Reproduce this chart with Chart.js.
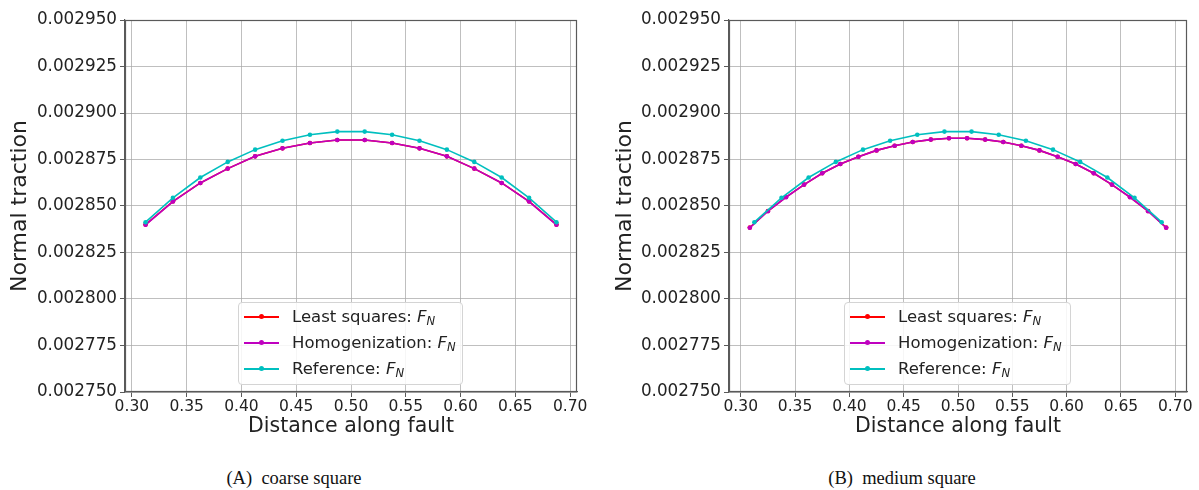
<!DOCTYPE html>
<html>
<head>
<meta charset="utf-8">
<script src="https://cdn.jsdelivr.net/npm/chart.js@4.4.1/dist/chart.umd.min.js"></script>
<style>
  html, body { margin: 0; padding: 0; background: #ffffff; }
  body { width: 1199px; height: 490px; overflow: hidden; position: relative; font-family: 'DejaVu Sans', sans-serif; }
  .wrap { position: absolute; top: 0; }
  .legend { position: absolute; box-sizing: border-box; border: 1px solid #d4d4d4; border-radius: 4px;
            background: rgba(255,255,255,0.85); font-family: 'DejaVu Sans', sans-serif; font-size: 16.5px; color: #222; }
  .row { position: absolute; left: 0; right: 0; height: 26px; line-height: 26px; white-space: nowrap; }
  .sample { position: absolute; top: 12px; height: 2px; width: 35px; }
  .dot { position: absolute; left: 15px; top: -2px; width: 5px; height: 5px; border-radius: 50%; }
  .txt { position: absolute; }
  .txt i { font-style: italic; }
  .txt sub { font-size: 70%; font-style: italic; vertical-align: -0.3em; line-height: 0; }
  .caption { position: absolute; top: 466px; width: 300px; text-align: center; font-family: 'Liberation Serif', serif;
             font-size: 18.5px; color: #111; line-height: 24px; }
</style>
</head>
<body>
<div class="wrap" style="left:0px;"><canvas id="chartA" width="600" height="440"></canvas></div>
<div class="wrap" style="left:600px;"><canvas id="chartB" width="599" height="440"></canvas></div>
<div id="legendA" class="legend" style="left:238px; top:302px; width:225px; height:83px;"></div>
<div id="legendB" class="legend" style="left:844px; top:302px; width:227px; height:83px;"></div>
<div class="caption" style="left:144px;">(A)&nbsp;&nbsp;coarse square</div>
<div class="caption" style="left:752px;">(B)&nbsp;&nbsp;medium square</div>

<script>
// ---------------- data ----------------
const xTickValues = [0.30, 0.35, 0.40, 0.45, 0.50, 0.55, 0.60, 0.65, 0.70];
const xTickLabels = ['0.30', '0.35', '0.40', '0.45', '0.50', '0.55', '0.60', '0.65', '0.70'];
const yTickValues = [0.002750, 0.002775, 0.002800, 0.002825, 0.002850, 0.002875, 0.002900, 0.002925, 0.002950];
const yTickLabels = ['0.002750', '0.002775', '0.002800', '0.002825', '0.002850', '0.002875', '0.002900', '0.002925', '0.002950'];

const seriesNames = ['Least squares', 'Homogenization', 'Reference'];
const seriesColors = ['#ff0000', '#bf00bf', '#00bfbf'];

// reference solution (same points in both panels)
const referenceX = [0.3125, 0.3375, 0.3625, 0.3875, 0.4125, 0.4375, 0.4625, 0.4875,
                    0.5125, 0.5375, 0.5625, 0.5875, 0.6125, 0.6375, 0.6625, 0.6875];
const referenceValues = [0.0028413, 0.0028544, 0.0028653, 0.0028737, 0.0028803, 0.0028851, 0.0028883, 0.0028900,
                         0.0028900, 0.0028883, 0.0028851, 0.0028803, 0.0028737, 0.0028653, 0.0028544, 0.0028413];

// (A) coarse square
const coarseX = [0.3125, 0.3375, 0.3625, 0.3875, 0.4125, 0.4375, 0.4625, 0.4875,
                 0.5125, 0.5375, 0.5625, 0.5875, 0.6125, 0.6375, 0.6625, 0.6875];
const coarseLeastSquares = [0.0028400, 0.0028525, 0.0028624, 0.0028701, 0.0028767, 0.0028810, 0.0028839, 0.0028855,
                            0.0028855, 0.0028839, 0.0028810, 0.0028767, 0.0028701, 0.0028624, 0.0028525, 0.0028400];
const coarseHomogenization = [0.0028399, 0.0028524, 0.0028624, 0.0028701, 0.0028767, 0.0028810, 0.0028839, 0.0028855,
                              0.0028855, 0.0028839, 0.0028810, 0.0028767, 0.0028701, 0.0028624, 0.0028524, 0.0028399];

// (B) medium square
const mediumX = [0.30833, 0.32500, 0.34167, 0.35833, 0.37500, 0.39167, 0.40833, 0.42500,
                 0.44167, 0.45833, 0.47500, 0.49167, 0.50833, 0.52500, 0.54167, 0.55833,
                 0.57500, 0.59167, 0.60833, 0.62500, 0.64167, 0.65833, 0.67500, 0.69167];
const mediumLeastSquares = [0.0028384, 0.0028473, 0.0028548, 0.0028615, 0.0028676, 0.0028726, 0.0028765, 0.0028799,
                            0.0028824, 0.0028844, 0.0028857, 0.0028864, 0.0028864, 0.0028857, 0.0028844, 0.0028824,
                            0.0028799, 0.0028765, 0.0028726, 0.0028676, 0.0028615, 0.0028548, 0.0028473, 0.0028384];
const mediumHomogenization = [0.0028383, 0.0028472, 0.0028547, 0.0028615, 0.0028676, 0.0028726, 0.0028765, 0.0028799,
                              0.0028824, 0.0028844, 0.0028857, 0.0028864, 0.0028864, 0.0028857, 0.0028844, 0.0028824,
                              0.0028799, 0.0028765, 0.0028726, 0.0028676, 0.0028615, 0.0028547, 0.0028472, 0.0028383];

// ---------------- helpers ----------------
const pairs = (xs, ys) => xs.map((x, i) => ({ x: x, y: ys[i] }));

function dataset(idx, xs, ys) {
  return {
    label: seriesNames[idx] + ': F_N',
    data: pairs(xs, ys),
    borderColor: seriesColors[idx],
    backgroundColor: seriesColors[idx],
    borderWidth: 1.6,
    pointRadius: 2.3,
    pointStyle: 'circle',
    pointBorderWidth: 0,
    showLine: true,
    tension: 0,
    order: 3 - idx
  };
}

const frameBox = {
  id: 'frameBox',
  afterDraw(chart) {
    const a = chart.chartArea, ctx = chart.ctx;
    ctx.save();
    ctx.strokeStyle = '#5a5a5a';
    ctx.lineWidth = 1.2;
    ctx.strokeRect(a.left + 0.5, a.top + 0.5, a.right - a.left - 1, a.bottom - a.top - 1);
    ctx.restore();
  }
};

const GRID = 'rgba(170,170,170,0.75)';
const AXIS = '#5a5a5a';
const TXT = '#222222';

function makeChart(id, datasets, xMin, xMax, yAxisWidth, padRight, yTitlePad) {
  return new Chart(document.getElementById(id), {
    type: 'line',
    data: { datasets: datasets },
    plugins: [frameBox],
    options: {
      responsive: false,
      animation: false,
      devicePixelRatio: 1,
      layout: { padding: { left: 0, top: 20, right: padRight, bottom: 0 } },
      plugins: { legend: { display: false }, tooltip: { enabled: false } },
      scales: {
        x: {
          type: 'linear',
          min: xMin, max: xMax,
          afterBuildTicks: (s) => { s.ticks = xTickValues.map(v => ({ value: v })); },
          afterFit: (s) => { s.height = 48; },
          ticks: {
            color: TXT, font: { family: 'DejaVu Sans', size: 15.5 }, padding: 1, maxRotation: 0,
            autoSkip: false,
            callback: (v, i) => xTickLabels[i]
          },
          grid: { color: GRID, lineWidth: 1, tickColor: AXIS, tickLength: 5 },
          border: { color: AXIS, width: 1.2 },
          title: { display: true, text: 'Distance along fault', color: TXT,
                   font: { family: 'DejaVu Sans', size: 20.5 }, padding: { top: 0, bottom: 1 } }
        },
        y: {
          type: 'linear',
          min: 0.002750, max: 0.002950,
          afterBuildTicks: (s) => { s.ticks = yTickValues.map(v => ({ value: v })); },
          afterFit: (s) => { s.width = yAxisWidth; },
          ticks: {
            color: TXT, font: { family: 'DejaVu Sans', size: 16.8 }, padding: 3, autoSkip: false,
            callback: (v, i) => yTickLabels[i]
          },
          grid: { color: GRID, lineWidth: 1, tickColor: AXIS, tickLength: 5 },
          border: { color: AXIS, width: 1.2 },
          title: { display: true, text: 'Normal traction', color: TXT,
                   font: { family: 'DejaVu Sans', size: 22 }, padding: { top: yTitlePad, bottom: 0 } }
        }
      }
    }
  });
}

makeChart('chartA', [
  dataset(0, coarseX, coarseLeastSquares),
  dataset(1, coarseX, coarseHomogenization),
  dataset(2, referenceX, referenceValues)
], 0.29375, 0.70625, 125, 23, 6.8);

makeChart('chartB', [
  dataset(0, mediumX, mediumLeastSquares),
  dataset(1, mediumX, mediumHomogenization),
  dataset(2, referenceX, referenceValues)
], 0.2891667, 0.7108333, 129, 12, 11.8);

// ---------------- legends ----------------
function buildLegend(id) {
  const box = document.getElementById(id);
  seriesNames.forEach((name, i) => {
    const row = document.createElement('div');
    row.className = 'row';
    row.style.top = (1 + i * 26) + 'px';
    const sample = document.createElement('div');
    sample.className = 'sample';
    sample.style.left = '5px';
    sample.style.background = seriesColors[i];
    const dot = document.createElement('div');
    dot.className = 'dot';
    dot.style.background = seriesColors[i];
    sample.appendChild(dot);
    const txt = document.createElement('div');
    txt.className = 'txt';
    txt.style.left = '53px';
    txt.innerHTML = name + ': <i>F</i><sub>N</sub>';
    row.appendChild(sample);
    row.appendChild(txt);
    box.appendChild(row);
  });
}
buildLegend('legendA');
buildLegend('legendB');
</script>
</body>
</html>
